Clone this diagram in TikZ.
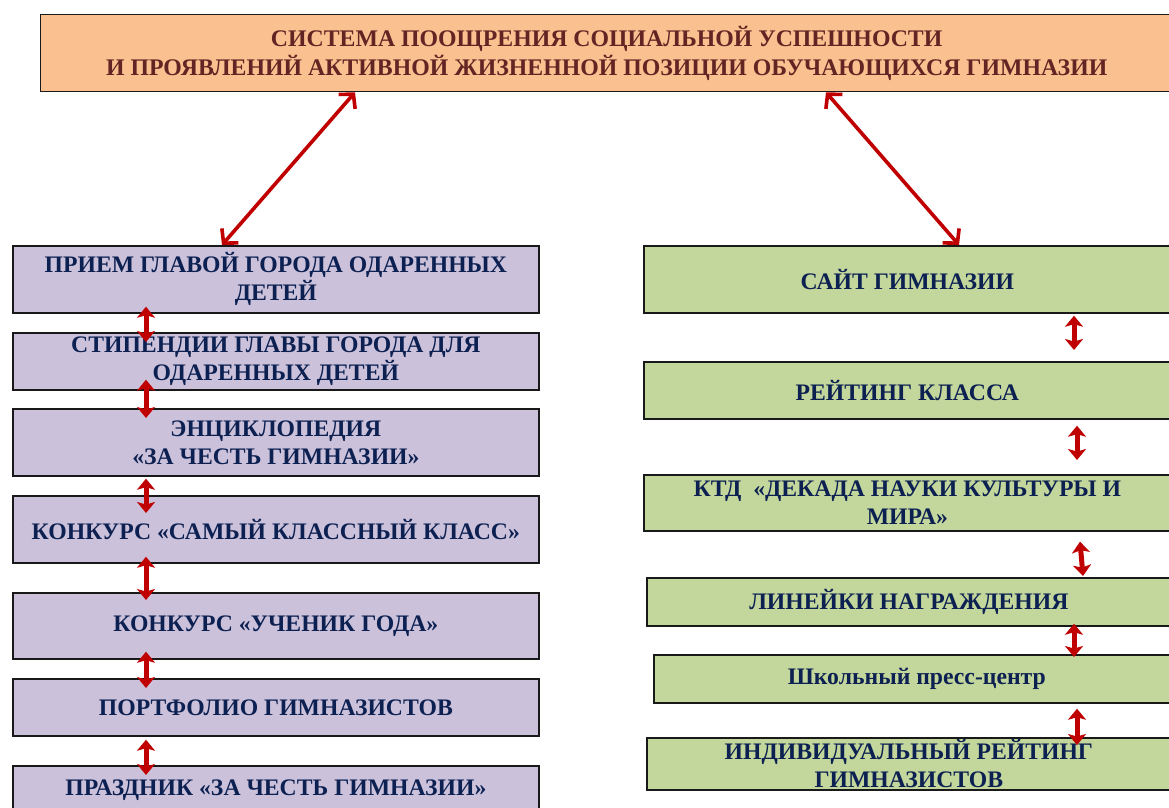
\documentclass[tikz,border=0pt]{standalone}
\usepackage{fontspec}
\setmainfont{Liberation Serif}
\usetikzlibrary{arrows.meta}
\definecolor{peach}{HTML}{FAC090}
\definecolor{lav}{HTML}{CCC1DA}
\definecolor{grn}{HTML}{C3D69B}
\definecolor{navy}{HTML}{0C2152}
\definecolor{titlebrown}{HTML}{632523}
\definecolor{arrred}{HTML}{C00000}
\begin{document}
\begin{tikzpicture}[x=1pt,y=-1pt,
  box/.style={draw=black!90, line width=1.7pt, align=center,
    font=\bfseries\fontsize{23.7}{28}\selectfont, text=navy,
    inner xsep=0pt, inner ysep=-6pt, anchor=north west},
  lbox/.style={box, fill=lav, minimum width=526pt},
  rbox/.style={box, fill=grn},
  bigarr/.style={draw=arrred, line width=3.6pt, {Straight Barb[length=10pt,width=22pt]}-{Straight Barb[length=10pt,width=22pt]}},
  smallarr/.style={draw=arrred, line width=5pt, {Stealth[length=11pt,width=18pt,inset=2.5pt]}-{Stealth[length=11pt,width=18pt,inset=2.5pt]}}]
\useasboundingbox (0,0) rectangle (1169,807);
\fill[white] (0,0) rectangle (1169,807);

\node[box, fill=peach, text=titlebrown, line width=1.3pt, minimum width=1132pt, minimum height=77pt,
  font=\bfseries\fontsize{23.8}{29}\selectfont] (top) at (40,14)
  {СИСТЕМА ПООЩРЕНИЯ СОЦИАЛЬНОЙ УСПЕШНОСТИ\\И ПРОЯВЛЕНИЙ АКТИВНОЙ ЖИЗНЕННОЙ ПОЗИЦИИ ОБУЧАЮЩИХСЯ ГИМНАЗИИ};

% left column
\node[lbox, minimum height=67pt] (L1) at (12,245) {ПРИЕМ ГЛАВОЙ ГОРОДА ОДАРЕННЫХ\\ДЕТЕЙ};
\node[lbox, minimum height=57pt] (L2) at (12,332) {СТИПЕНДИИ ГЛАВЫ ГОРОДА ДЛЯ\\ОДАРЕННЫХ ДЕТЕЙ};
\node[lbox, minimum height=67pt] (L3) at (12,408) {ЭНЦИКЛОПЕДИЯ\\«ЗА ЧЕСТЬ ГИМНАЗИИ»};
\node[lbox, minimum height=67pt] (L4) at (12,495) {КОНКУРС «САМЫЙ КЛАССНЫЙ КЛАСС»};
\node[lbox, minimum height=66pt] (L5) at (12,592) {КОНКУРС «УЧЕНИК ГОДА»};
\node[lbox, minimum height=57pt] (L6) at (12,678) {ПОРТФОЛИО ГИМНАЗИСТОВ};
\node[lbox, minimum height=48pt] (L7) at (12,765) {ПРАЗДНИК «ЗА ЧЕСТЬ ГИМНАЗИИ»};

% right column
\node[rbox, minimum width=527pt, minimum height=67pt] (R1) at (643,245) {САЙТ ГИМНАЗИИ};
\node[rbox, minimum width=527pt, minimum height=57pt] (R2) at (643,361) {РЕЙТИНГ КЛАССА};
\node[rbox, minimum width=527pt, minimum height=56pt] (R3) at (643,474) {КТД \ «ДЕКАДА НАУКИ КУЛЬТУРЫ И\\МИРА»};
\node[rbox, minimum width=524pt, minimum height=48pt] (R4) at (646,577) {ЛИНЕЙКИ НАГРАЖДЕНИЯ};
\node[rbox, minimum width=526pt, minimum height=48pt] (R5) at (653,654) {Школьный пресс-центр};
\node[rbox, minimum width=524pt, minimum height=52pt] (R6) at (646,737) {ИНДИВИДУАЛЬНЫЙ РЕЙТИНГ\\ГИМНАЗИСТОВ};

% big arrows
\draw[bigarr] ([xshift=315pt]top.south west) -- ([xshift=210pt]L1.north west);
\draw[bigarr] ([xshift=786pt]top.south west) -- ([xshift=316pt]R1.north west);

% left small arrows
\draw[smallarr] ([xshift=134pt,yshift=7pt]L1.south west) -- ([xshift=134pt,yshift=-10pt]L2.north west);
\draw[smallarr] ([xshift=134pt,yshift=11pt]L2.south west) -- ([xshift=134pt,yshift=-10pt]L3.north west);
\draw[smallarr] ([xshift=134pt,yshift=-2pt]L3.south west) -- ([xshift=134pt,yshift=-18pt]L4.north west);
\draw[smallarr] ([xshift=134pt,yshift=7pt]L4.south west) -- ([xshift=134pt,yshift=-8pt]L5.north west);
\draw[smallarr] ([xshift=134pt,yshift=8pt]L5.south west) -- ([xshift=134pt,yshift=-10pt]L6.north west);
\draw[smallarr] ([xshift=134pt,yshift=-3pt]L6.south west) -- ([xshift=134pt,yshift=-10pt]L7.north west);

% right small arrows
\draw[smallarr] ([xshift=431pt,yshift=-2pt]R1.south west) -- ([xshift=431pt,yshift=11pt]R2.north west);
\draw[smallarr] ([xshift=434pt,yshift=-6pt]R2.south west) -- ([xshift=434pt,yshift=14pt]R3.north west);
\draw[smallarr] ([xshift=437pt,yshift=-10pt]R3.south west) -- ([xshift=437pt,yshift=1pt]R4.north west);
\draw[smallarr] ([xshift=428pt,yshift=3pt]R4.south west) -- ([xshift=421pt,yshift=-3pt]R5.north west);
\draw[smallarr] ([xshift=424pt,yshift=-5pt]R5.south west) -- ([xshift=431pt,yshift=-8pt]R6.north west);
\end{tikzpicture}
\end{document}
